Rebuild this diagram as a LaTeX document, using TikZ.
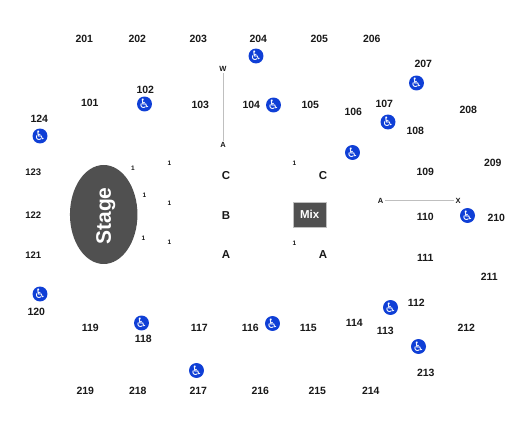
\documentclass[tikz,border=0pt]{standalone}
\usepackage{fontspec}
\usetikzlibrary{shapes.geometric}
\setmainfont{Liberation Sans}
\newfontfamily\iconfont{DejaVu Sans}
\definecolor{stagegray}{HTML}{505050}
\definecolor{wheelblue}{HTML}{0F3FD6}
\newcommand{\wheelicon}{{\iconfont\fontsize{13pt}{13pt}\selectfont\symbol{"267F}}}
\begin{document}
\begin{tikzpicture}[x=1pt,y=-1pt]
      \tikzset{sect/.style={font=\fontsize{10.5pt}{12pt}\selectfont\bfseries, text=black!90, inner sep=0pt, xshift=0.3pt, yshift=-0.5pt},
        row/.style={font=\fontsize{11.5pt}{13pt}\selectfont\bfseries, text=black!90, inner sep=0pt, yshift=-0.5pt},
        seatnum/.style={font=\fontsize{6.5pt}{7pt}\selectfont\bfseries, text=black!90, inner sep=0pt},
        aisle/.style={font=\fontsize{7.5pt}{8pt}\selectfont\bfseries, text=black!90, inner sep=1.5pt},
        wheel/.style={circle, fill=wheelblue, draw=none, text=white, inner sep=0pt, minimum size=14.5pt},
        aisleline/.style={draw=black!25, line width=1pt}}
      \useasboundingbox (0,0) rectangle (525,430);
      % stage and mix
      \node[ellipse, fill=stagegray, draw=none, minimum width=67.5pt, minimum height=99pt, inner sep=0pt] (stage) at (103.7,214.5) {};
      \node[rotate=90, text=white, font=\fontsize{21pt}{24pt}\selectfont\bfseries] (stagetext) at (105.7,216) {Stage};
      \node[draw=black!25, fill=stagegray, minimum width=33.5pt, minimum height=25pt, inner sep=0pt, text=white, font=\fontsize{11.5pt}{13pt}\selectfont\bfseries] (mix) at (309.7,214.5) {Mix};
      % upper ring
      \node[sect] (s201) at (84,38) {201};
      \node[sect] (s202) at (137,38) {202};
      \node[sect] (s203) at (198,38) {203};
      \node[sect] (s204) at (258,38) {204};
      \node[sect] (s205) at (319,38) {205};
      \node[sect] (s206) at (371.5,38) {206};
      \node[sect] (s207) at (423,63) {207};
      \node[sect] (s208) at (468,109) {208};
      \node[sect] (s209) at (492.5,162.5) {209};
      \node[sect] (s210) at (496,217) {210};
      \node[sect] (s211) at (489,276) {211};
      \node[sect] (s212) at (466,327) {212};
      \node[sect] (s213) at (425.5,372) {213};
      \node[sect] (s214) at (370.5,390) {214};
      \node[sect] (s215) at (317,390) {215};
      \node[sect] (s216) at (260,390) {216};
      \node[sect] (s217) at (198,390) {217};
      \node[sect] (s218) at (137.5,390) {218};
      \node[sect] (s219) at (85,390) {219};
      % lower ring
      \node[sect] (s101) at (89.5,102) {101};
      \node[sect] (s102) at (145,89) {102};
      \node[sect] (s103) at (200,104) {103};
      \node[sect] (s104) at (251,104) {104};
      \node[sect] (s105) at (310,104) {105};
      \node[sect] (s106) at (353,111) {106};
      \node[sect] (s107) at (384,103) {107};
      \node[sect] (s108) at (415,130) {108};
      \node[sect] (s109) at (425,171) {109};
      \node[sect] (s110) at (425,216) {110};
      \node[sect] (s111) at (425,257) {111};
      \node[sect] (s112) at (416,302) {112};
      \node[sect] (s113) at (385,330) {113};
      \node[sect] (s114) at (354,322) {114};
      \node[sect] (s115) at (308,327.5) {115};
      \node[sect] (s116) at (250,327.5) {116};
      \node[sect] (s117) at (199,327.5) {117};
      \node[sect] (s118) at (143,338) {118};
      \node[sect] (s119) at (90,327.5) {119};
      \node[sect] (s120) at (36,311) {120};
      \node[sect, font=\fontsize{9.5pt}{12pt}\selectfont\bfseries] (s121) at (33,255) {121};
      \node[sect, font=\fontsize{9.5pt}{12pt}\selectfont\bfseries] (s122) at (33,215) {122};
      \node[sect, font=\fontsize{9.5pt}{12pt}\selectfont\bfseries] (s123) at (33,172) {123};
      \node[sect] (s124) at (39,118) {124};
      % floor rows
      \node[row] (rowcl) at (226,175) {C};
      \node[row] (rowb) at (226,215) {B};
      \node[row] (rowal) at (226,254) {A};
      \node[row] (rowcr) at (323,175) {C};
      \node[row] (rowar) at (323,254) {A};
      \node[seatnum] (n1) at (133,168) {1};
      \node[seatnum] (n2) at (169.5,163) {1};
      \node[seatnum] (n3) at (144.5,195.5) {1};
      \node[seatnum] (n4) at (169.5,203) {1};
      \node[seatnum] (n5) at (143.5,238.5) {1};
      \node[seatnum] (n6) at (169.5,242.5) {1};
      \node[seatnum] (n7) at (294.5,163) {1};
      \node[seatnum] (n8) at (294.5,243) {1};
      % aisles
      \node[aisle] (topw) at (223,69) {W};
      \node[aisle] (topa) at (223,145) {A};
      \node[aisle] (sidea) at (380.5,201) {A};
      \node[aisle] (sidex) at (458,201) {X};
      \draw[aisleline] (topw) -- (topa);
      \draw[aisleline] (sidea) -- (sidex);
      % wheelchair spots
      \node[wheel] (w102) at (144.5,104) {\wheelicon};
      \node[wheel] (w124) at (40,136) {\wheelicon};
      \node[wheel] (w204) at (256,56) {\wheelicon};
      \node[wheel] (w104) at (273.5,105) {\wheelicon};
      \node[wheel] (w207) at (416.5,83) {\wheelicon};
      \node[wheel] (w107) at (388,122) {\wheelicon};
      \node[wheel] (w106) at (352.5,152.5) {\wheelicon};
      \node[wheel] (w210) at (467.5,215.5) {\wheelicon};
      \node[wheel] (w112) at (390.5,307.5) {\wheelicon};
      \node[wheel] (w213) at (418.5,346.5) {\wheelicon};
      \node[wheel] (w116) at (272.5,323.5) {\wheelicon};
      \node[wheel] (w217) at (196.5,370.5) {\wheelicon};
      \node[wheel] (w118) at (141.5,323) {\wheelicon};
      \node[wheel] (w120) at (40,294) {\wheelicon};
\end{tikzpicture}
\end{document}
